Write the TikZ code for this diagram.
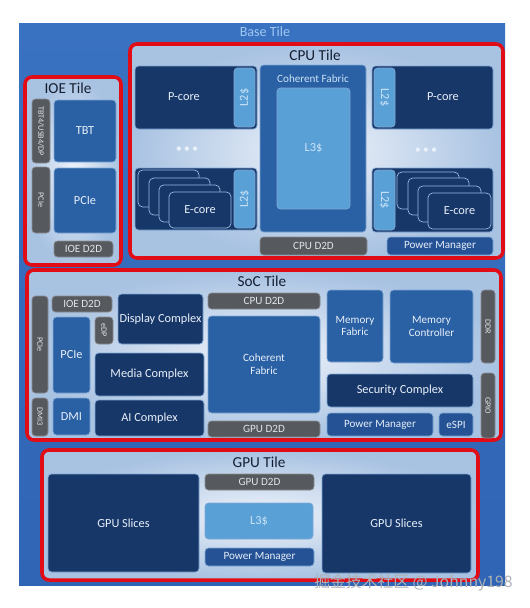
\documentclass[tikz,border=0pt]{standalone}
\usepackage{fontspec}
\setmainfont{Carlito}
\newfontfamily\cjkfont{Noto Sans CJK SC}
\usepackage{tikz}
\definecolor{baseblue}{RGB}{58,114,194}
\definecolor{basebluedk}{RGB}{48,100,180}
\definecolor{basetext}{RGB}{160,200,240}
\definecolor{tilered}{RGB}{226,12,22}
\definecolor{tileedge}{RGB}{168,194,226}
\definecolor{tilecenter}{RGB}{238,243,250}
\definecolor{tiletext}{RGB}{20,30,48}
\definecolor{boxnavy}{RGB}{24,55,105}
\definecolor{boxmid}{RGB}{42,96,164}
\definecolor{boxpm}{RGB}{36,82,148}
\definecolor{boxcache}{RGB}{88,160,214}
\definecolor{boxgray}{RGB}{86,90,95}
\definecolor{boxedge}{RGB}{128,168,214}
\definecolor{cardedge}{RGB}{150,185,225}
\definecolor{boxtext}{RGB}{232,240,250}
\definecolor{cachetext}{RGB}{205,228,248}
\definecolor{graytext}{RGB}{225,228,232}
\definecolor{marktext}{RGB}{175,178,182}
\newcommand{\tilefont}{\fontsize{13}{15}\selectfont}
\newcommand{\boxfont}{\fontsize{10.5}{12}\selectfont}
\newcommand{\smallfont}{\fontsize{9.5}{11}\selectfont}
\newcommand{\barfont}{\fontsize{7}{8}\selectfont}
\tikzset{
  area/.style args={#1/#2/#3/#4}{at={({(#1+#3)/2},{(#2+#4)/2})}, minimum width={(#3-#1)*0.03cm}, minimum height={(#4-#2)*0.03cm}},
  basetile/.style={top color=baseblue, bottom color=basebluedk, inner sep=0pt},
  tilebox/.style={draw=tilered, line width=3pt, rounded corners=6pt, inner color=tilecenter, outer color=tileedge, inner sep=0pt},
  tiletitle/.style={text=tiletext, font=\tilefont, inner sep=0pt},
  navybox/.style={fill=boxnavy, draw=boxedge, line width=0.6pt, rounded corners=3pt, inner sep=0pt, text=boxtext, font=\boxfont, align=center},
  midbox/.style={navybox, fill=boxmid},
  pmbox/.style={navybox, fill=boxpm, font=\smallfont},
  cachebox/.style={navybox, fill=boxcache, text=cachetext},
  graybox/.style={navybox, fill=boxgray, draw=boxgray!70!white, text=graytext, font=\smallfont},
  vbar/.style={graybox, font=\barfont},
  card/.style={fill=boxnavy, draw=cardedge, line width=0.6pt, rounded corners=4pt, inner sep=0pt, text=boxtext, font=\boxfont},
  boxlabel/.style={text=boxtext, font=\boxfont, inner sep=0pt},
}

\begin{document}
\begin{tikzpicture}[x=0.03cm, y=-0.03cm]
\useasboundingbox (0,0) rectangle (530,608);
% base tile
\node (base) [basetile, area=19/23/505/585] {};
\node (basetitle) [text=basetext, font=\fontsize{12}{14}\selectfont] at (265,32) {Base Tile};

% IOE tile
\node (ioe) [tilebox, area=25/77/121/265] {};
\node (ioetitle) [tiletitle] at (68,88) {IOE Tile};
\node (tbtbar) [vbar, area=32/99/50/163] {\rotatebox{-90}{TBT4/USB4/DP}};
\node (ioepciebar) [vbar, area=32/167/50/233] {\rotatebox{-90}{PCIe}};
\node (tbt) [midbox, area=54/100/116/162] {TBT};
\node (ioepcie) [midbox, area=54/168/116/233] {PCIe};
\node (ioed2d) [graybox, area=54/241/113/257] {IOE D2D};

% CPU tile
\node (cpu) [tilebox, area=130/44/503/258] {};
\node (cputitle) [tiletitle] at (315,55) {CPU Tile};
\node (pcoreLbox) [navybox, area=135/66/257/129] {};
\node (pcoreL) [boxlabel] at (184,97) {P-core};
\node (l2pL) [cachebox, area=234/68/255/127] {\rotatebox{90}{L2\$}};
\node (dotsL) [boxlabel] at (187,150) {\textbullet\,\textbullet\,\textbullet};
\node (ecoreLbox) [navybox, area=135/168/257/230] {};
\node (ecL1) [card, area=138/170/199/207] {};
\node (ecL2) [card, area=149/178/210/215] {};
\node (ecL3) [card, area=159/185/220/222] {};
\node (ecL4) [card, area=169/192/231/228] {E-core};
\node (l2eL) [cachebox, area=234/170/255/228] {\rotatebox{90}{L2\$}};
\node (cpucf) [midbox, area=260/65/366/232] {};
\node (cpucft) [boxlabel, text=cachetext, font=\smallfont] at (313,79) {Coherent Fabric};
\node (cpul3) [cachebox, area=277/88/350/209] {L3\$};
\node (pcoreRbox) [navybox, area=372/66/493/129] {};
\node (pcoreR) [boxlabel] at (443,97) {P-core};
\node (l2pR) [cachebox, area=374/68/395/127] {\rotatebox{-90}{L2\$}};
\node (dotsR) [boxlabel] at (426,151) {\textbullet\,\textbullet\,\textbullet};
\node (ecoreRbox) [navybox, area=372/168/493/232] {};
\node (ecR1) [card, area=397/172/459/209] {};
\node (ecR2) [card, area=408/178/469/215] {};
\node (ecR3) [card, area=418/186/481/222] {};
\node (ecR4) [card, area=428/193/491/229] {E-core};
\node (l2eR) [cachebox, area=374/170/395/230] {\rotatebox{-90}{L2\$}};
\node (cpud2d) [graybox, area=260/237/367/255] {CPU D2D};
\node (cpupm) [pmbox, area=387/237/493/255] {Power Manager};

% SoC tile
\node (soc) [tilebox, area=27/270/501/440] {};
\node (soctitle) [tiletitle] at (262,281) {SoC Tile};
\node (socpciebar) [vbar, area=32/296/48/393] {\rotatebox{-90}{PCIe}};
\node (dmibar) [vbar, area=32/398/48/436] {\rotatebox{-90}{DMI3}};
\node (socioed2d) [graybox, area=52/296/112/312] {IOE D2D};
\node (socpcie) [midbox, area=53/317/90/393] {PCIe};
\node (dmi) [midbox, area=53/398/90/435] {DMI};
\node (edp) [vbar, area=95/317/113/344] {\rotatebox{-90}{eDP}};
\node (display) [navybox, area=118/294/203/344] {Display Complex};
\node (media) [navybox, area=95/353/204/396] {Media Complex};
\node (ai) [navybox, area=95/400/204/436] {AI Complex};
\node (soccpud2d) [graybox, area=208/293/320/309] {CPU D2D};
\node (soccf) [midbox, area=208/316/320/413, font=\smallfont] {Coherent\\Fabric};
\node (socgpud2d) [graybox, area=208/421/320/437] {GPU D2D};
\node (memfab) [midbox, area=327/290/383/362, font=\smallfont] {Memory\\Fabric};
\node (memctl) [midbox, area=390/290/473/363, font=\smallfont] {Memory\\Controller};
\node (ddr) [vbar, area=481/290/495/363] {\rotatebox{-90}{DDR}};
\node (security) [navybox, area=327/374/473/407] {Security Complex};
\node (gpio) [vbar, area=481/373/495/438] {\rotatebox{-90}{GPIO}};
\node (socpm) [pmbox, area=327/413/433/436] {Power Manager};
\node (espi) [pmbox, area=439/413/473/436] {eSPI};

% GPU tile
\node (gpu) [tilebox, area=42/450/478/580] {};
\node (gputitle) [tiletitle] at (259,462) {GPU Tile};
\node (gpusL) [navybox, area=48/474/199/572] {GPU Slices};
\node (gpud2d) [graybox, area=205/474/314/490] {GPU D2D};
\node (gpul3) [cachebox, area=205/503/313/539] {L3\$};
\node (gpupm) [pmbox, area=205/548/314/566] {Power Manager};
\node (gpusR) [navybox, area=322/474/471/573] {GPU Slices};

\node (wm) [anchor=east, text=marktext, font=\cjkfont\fontsize{13.5}{15}\selectfont, inner sep=0pt] at (513,583) {掘金技术社区 @ Johnny198};
\end{tikzpicture}
\end{document}
